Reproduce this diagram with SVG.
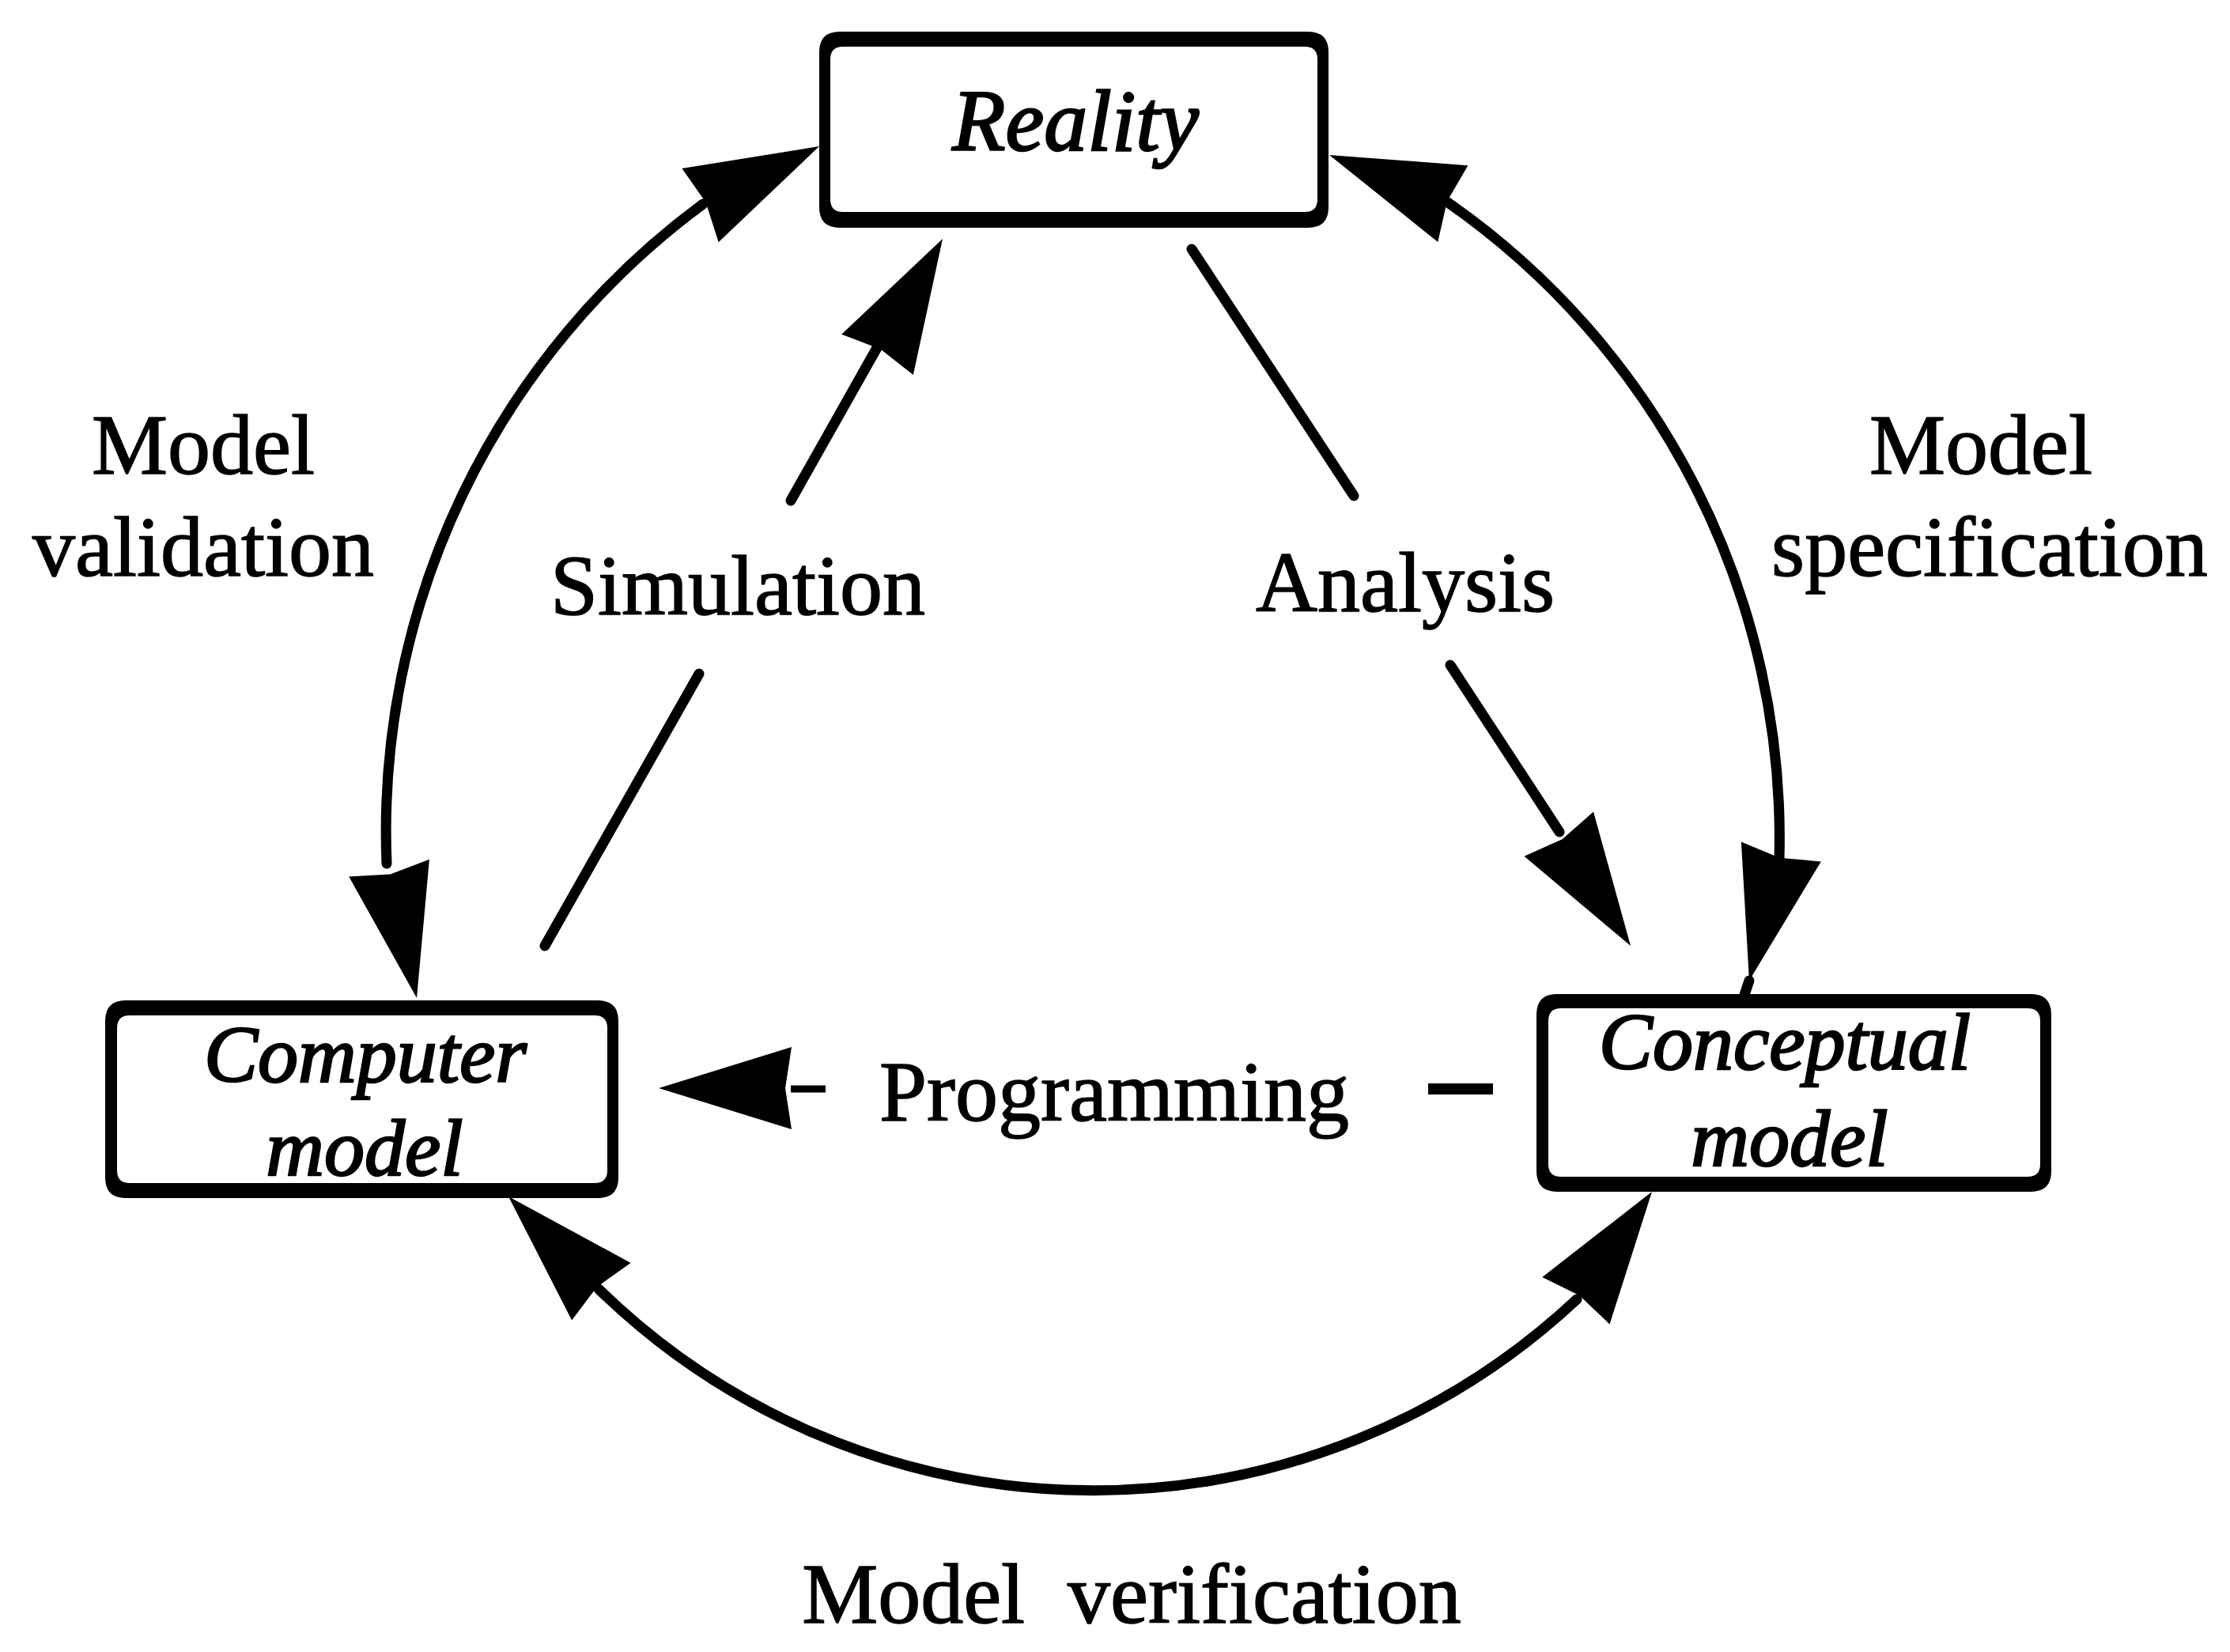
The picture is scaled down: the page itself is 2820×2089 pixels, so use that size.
<svg xmlns="http://www.w3.org/2000/svg" xmlns:xlink="http://www.w3.org/1999/xlink" width="2820" height="2089" viewBox="0 0 2820 2089">
  <style>
    .txt { font-family: "Liberation Serif", "Times New Roman", serif; font-size: 108px; fill: #000; text-anchor: middle; stroke: #000; stroke-width: 1.5px; }
    .it { font-style: italic; font-size: 110px; stroke-width: 2.5px; }
    .sm { font-size: 102px; }
    .box { fill: #000; fill-rule: evenodd; }
    .link { fill: none; stroke: #000; stroke-width: 13; stroke-linecap: round; }
    .head { fill: #000; }
  </style>
  <defs>
    <!-- filled arrowhead, tip at origin pointing along +x -->
    <path id="head" class="head" d="M0,0 L-168,-52 L-160,0 L-168,52 Z"/>
  </defs>
  <rect width="2820" height="2089" fill="#fff"/>

  <!-- nodes -->
  <g id="reality">
    <path class="box" d="M1062,40 H1654 Q1680,40 1680,66 V262 Q1680,288 1654,288 H1062 Q1036,288 1036,262 V66 Q1036,40 1062,40 Z M1066,59 H1650 Q1666,59 1666,75 V252 Q1666,268 1650,268 H1066 Q1050,268 1050,252 V75 Q1050,59 1066,59 Z"/>
    <text class="txt it" x="1360" y="190">Reality</text>
  </g>
  <g id="computer-model">
    <path class="box" d="M159,1265 H756 Q782,1265 782,1291 V1489 Q782,1515 756,1515 H159 Q133,1515 133,1489 V1291 Q133,1265 159,1265 Z M164,1284 H752 Q768,1284 768,1300 V1480 Q768,1496 752,1496 H164 Q148,1496 148,1480 V1300 Q148,1284 164,1284 Z"/>
    <text class="txt it sm" x="462" y="1368">Computer</text>
    <text class="txt it sm" x="461" y="1486">model</text>
  </g>
  <g id="conceptual-model">
    <path class="box" d="M1969,1257 H2568 Q2594,1257 2594,1283 V1481 Q2594,1507 2568,1507 H1969 Q1943,1507 1943,1481 V1283 Q1943,1257 1969,1257 Z M1974,1275 H2564 Q2580,1275 2580,1291 V1472 Q2580,1488 2564,1488 H1974 Q1958,1488 1958,1472 V1291 Q1958,1275 1974,1275 Z"/>
    <text class="txt it sm" x="2257" y="1352">Conceptual</text>
    <text class="txt it sm" x="2263" y="1474">model</text>
  </g>

  <!-- connectors -->
  <g id="connectors">
    <!-- model validation: Reality <-> Computer model -->
    <path class="link" d="M889,258 A985,985 0 0 0 489,1092"/>
    <use xlink:href="#head" transform="translate(1036,185) rotate(-26.4)"/>
    <use xlink:href="#head" transform="translate(527,1262) rotate(78)"/>

    <!-- model specification: Reality <-> Conceptual model -->
    <path class="link" d="M1828,254 A980,980 0 0 1 2250,1087"/>
    <use xlink:href="#head" transform="translate(1681,196) rotate(-158.5)"/>
    <use xlink:href="#head" transform="translate(2212,1240) rotate(103.9)"/>
    <line class="link" x1="2212" y1="1240" x2="2206" y2="1258"/>

    <!-- model verification: Computer model <-> Conceptual model -->
    <path class="link" d="M757,1630 A895,895 0 0 0 1994,1643"/>
    <use xlink:href="#head" transform="translate(643,1513) rotate(-134.3)"/>
    <use xlink:href="#head" transform="translate(2089,1507) rotate(-55.1)"/>

    <!-- simulation: Computer model -> Reality -->
    <line class="link" x1="689" y1="1196" x2="884" y2="852"/>
    <line class="link" x1="1000" y1="633" x2="1110" y2="438"/>
    <use xlink:href="#head" transform="translate(1192,302) rotate(-60.6)"/>

    <!-- analysis: Reality -> Conceptual model -->
    <line class="link" x1="1507" y1="315" x2="1712" y2="627"/>
    <line class="link" x1="1834" y1="841" x2="1972" y2="1052"/>
    <use xlink:href="#head" transform="translate(2062,1196) rotate(57.3)"/>

    <!-- programming: Conceptual model -> Computer model -->
    <line class="link" x1="1000" y1="1377" x2="1044" y2="1377" style="stroke-width:9;stroke-linecap:butt"/>
    <line class="link" x1="1806" y1="1377" x2="1888" y2="1377" style="stroke-width:14;stroke-linecap:butt"/>
    <use xlink:href="#head" transform="translate(833,1376) rotate(180)"/>
  </g>

  <!-- connector labels -->
  <g id="labels">
    <text class="txt" x="257" y="599">Model</text>
    <text class="txt" x="257" y="728">validation</text>
    <text class="txt" x="2505" y="599">Model</text>
    <text class="txt" x="2516" y="728">specification</text>
    <text class="txt" x="933" y="777">Simulation</text>
    <text class="txt" x="1777" y="773">Analysis</text>
    <text class="txt" x="1409" y="1417">Programming</text>
    <text class="txt" x="1431" y="2052" xml:space="preserve">Model  verification</text>
  </g>
</svg>
